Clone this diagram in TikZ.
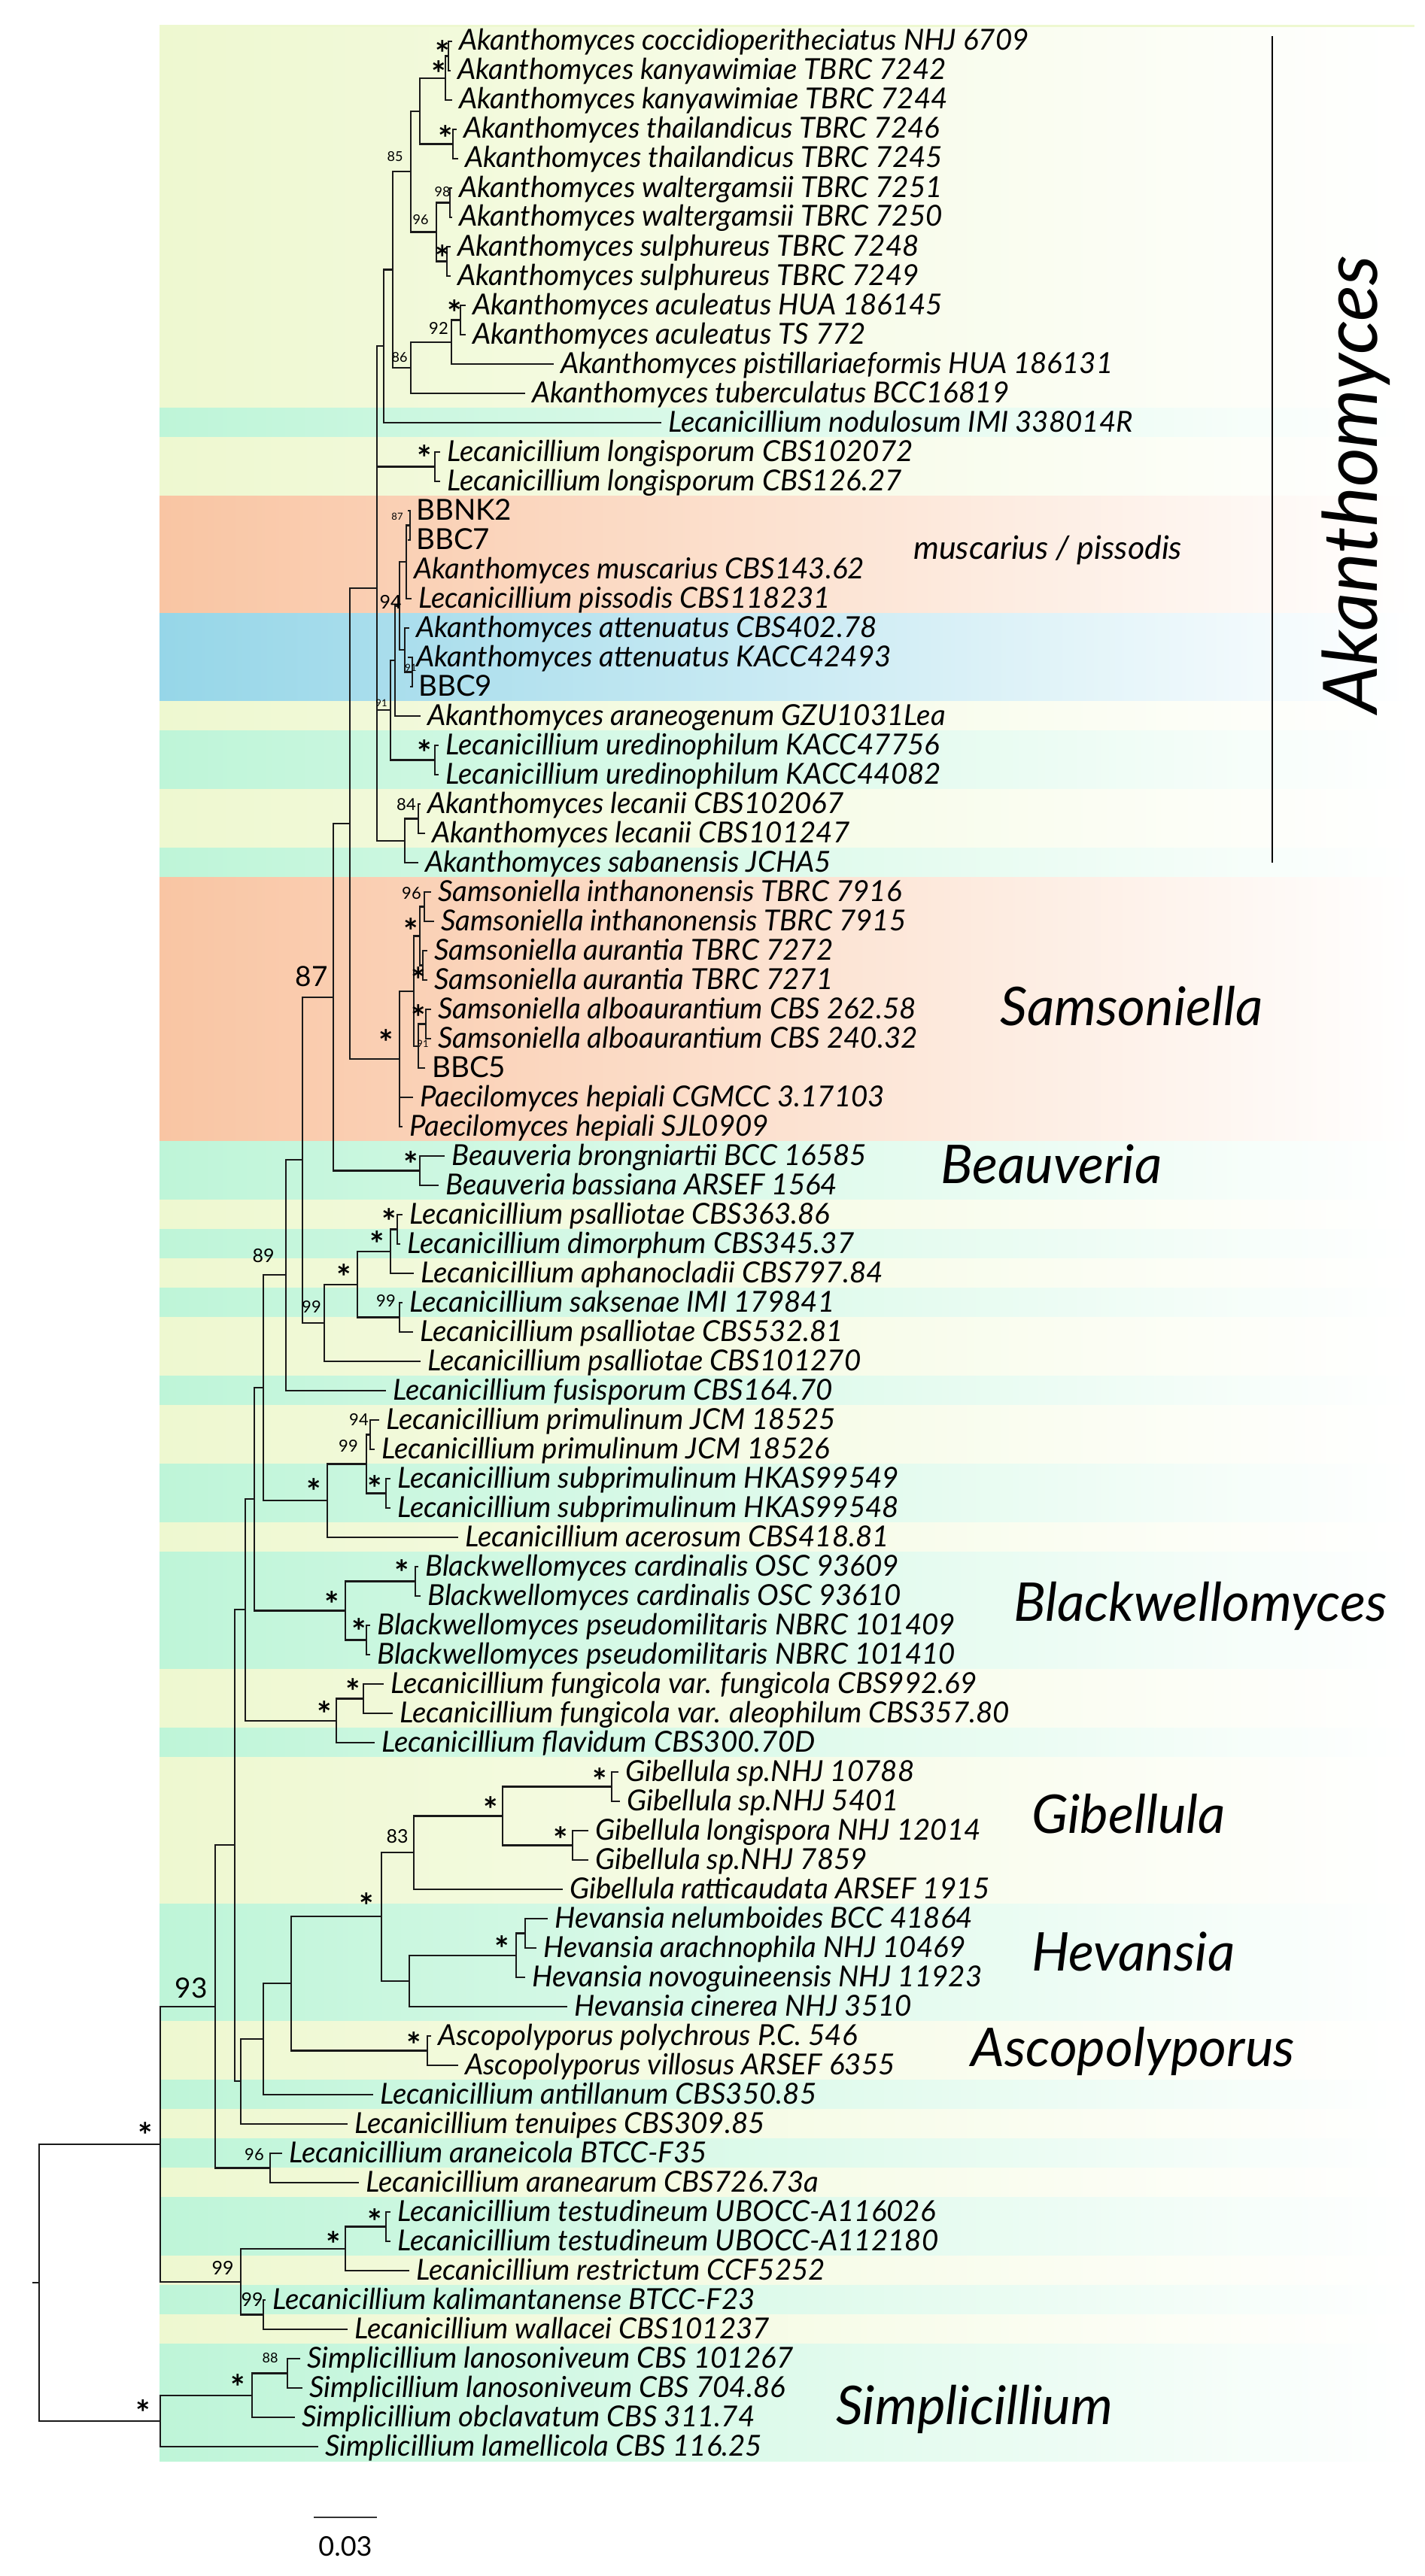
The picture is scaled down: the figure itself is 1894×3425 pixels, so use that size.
\documentclass[tikz,border=0pt]{standalone}
\usepackage{fontspec}
\setmainfont{Lato}
\definecolor{bY}{RGB}{238,248,208}
\definecolor{bG}{RGB}{190,245,216}
\definecolor{bO}{RGB}{249,197,163}
\definecolor{bB}{RGB}{150,214,232}
\begin{document}
\begin{tikzpicture}[x=1pt,y=-1pt,
  br/.style={line width=2.6pt, line cap=rect, draw=black!90},
  tx/.style={anchor=base west, inner sep=0pt, xshift=10pt, yshift=-12pt, font=\fontsize{38.5}{40}\selectfont\itshape},
  svt/.style={inner sep=0pt, font=\fontsize{13}{15}\selectfont},
  svs/.style={inner sep=0pt, font=\fontsize{18}{20}\selectfont},
  svm/.style={inner sep=0pt, font=\fontsize{22}{24}\selectfont},
  svn/.style={inner sep=0pt, font=\fontsize{25}{27}\selectfont},
  svl/.style={inner sep=0pt, font=\fontsize{37}{40}\selectfont},
  ast/.style={inner sep=0pt, anchor=north, yshift=7pt, font=\fontsize{46}{50}\selectfont\bfseries},
  clade/.style={anchor=base west, inner sep=0pt, font=\fontsize{71}{74}\selectfont\itshape},
]
\useasboundingbox (0,0) rectangle (1894,3425);
% ---------- background bands
\foreach \a/\b/\c in {1/13/bY,14/14/bG,15/16/bY,17/20/bO,21/23/bB,24/24/bY,25/26/bG,27/28/bY,29/29/bG,30/38/bO,39/40/bG,41/41/bY,42/42/bG,43/43/bY,44/44/bG,45/46/bY,47/47/bG,48/49/bY,50/51/bG,52/52/bY,53/56/bG,57/58/bY,59/59/bG,60/64/bY,65/68/bG,69/70/bY,71/71/bG,72/72/bY,73/73/bG,74/74/bY,75/76/bG,77/77/bY,78/78/bG,79/79/bY,80/83/bG}
  \shade[left color=\c, right color=white] (212,{35.5+39*(\a-1)-0.4}) rectangle (1880,{74.5+39*(\b-1)+0.4});
\fill[bY] (212,33) rectangle (1880,36);
% ---------- tips and labels
\foreach \i/\x/\t in {
1/600/{Akanthomyces coccidioperitheciatus NHJ 6709},
2/598/{Akanthomyces kanyawimiae TBRC 7242},
3/600/{Akanthomyces kanyawimiae TBRC 7244},
4/606/{Akanthomyces thailandicus TBRC 7246},
5/608/{Akanthomyces thailandicus TBRC 7245},
6/600/{Akanthomyces waltergamsii TBRC 7251},
7/600/{Akanthomyces waltergamsii TBRC 7250},
8/598/{Akanthomyces sulphureus TBRC 7248},
9/598/{Akanthomyces sulphureus TBRC 7249},
10/618/{Akanthomyces aculeatus HUA 186145},
11/618/{Akanthomyces aculeatus TS 772},
12/735/{Akanthomyces pistillariaeformis HUA 186131},
13/697/{Akanthomyces tuberculatus BCC16819},
14/878/{Lecanicillium nodulosum IMI 338014R},
15/584/{Lecanicillium longisporum CBS102072},
16/584/{Lecanicillium longisporum CBS126.27},
17/543/{\upshape BBNK2},
18/543/{\upshape BBC7},
19/540/{Akanthomyces muscarius CBS143.62},
20/546/{Lecanicillium pissodis CBS118231},
21/543/{Akanthomyces attenuatus CBS402.78},
22/543/{Akanthomyces attenuatus KACC42493},
23/546/{\upshape BBC9},
24/558/{Akanthomyces araneogenum GZU1031Lea},
25/582/{Lecanicillium uredinophilum KACC47756},
26/582/{Lecanicillium uredinophilum KACC44082},
27/558/{Akanthomyces lecanii CBS102067},
28/564/{Akanthomyces lecanii CBS101247},
29/555/{Akanthomyces sabanensis JCHA5},
30/572/{Samsoniella inthanonensis TBRC 7916},
31/576/{Samsoniella inthanonensis TBRC 7915},
32/567/{Samsoniella aurantia TBRC 7272},
33/567/{Samsoniella aurantia TBRC 7271},
34/572/{Samsoniella alboaurantium CBS 262.58},
35/572/{Samsoniella alboaurantium CBS 240.32},
36/564/{\upshape BBC5},
37/548/{Paecilomyces hepiali CGMCC 3.17103},
38/534/{Paecilomyces hepiali SJL0909},
39/590/{Beauveria brongniartii BCC 16585},
40/582/{Beauveria bassiana ARSEF 1564},
41/534/{Lecanicillium psalliotae CBS363.86},
42/531/{Lecanicillium dimorphum CBS345.37},
43/549/{Lecanicillium aphanocladii CBS797.84},
44/534/{Lecanicillium saksenae IMI 179841},
45/548/{Lecanicillium psalliotae CBS532.81},
46/558/{Lecanicillium psalliotae CBS101270},
47/512/{Lecanicillium fusisporum CBS164.70},
48/503/{Lecanicillium primulinum JCM 18525},
49/497/{Lecanicillium primulinum JCM 18526},
50/518/{Lecanicillium subprimulinum HKAS99549},
51/518/{Lecanicillium subprimulinum HKAS99548},
52/608/{Lecanicillium acerosum CBS418.81},
53/555/{Blackwellomyces cardinalis OSC 93609},
54/558/{Blackwellomyces cardinalis OSC 93610},
55/491/{Blackwellomyces pseudomilitaris NBRC 101409},
56/491/{Blackwellomyces pseudomilitaris NBRC 101410},
57/509/{Lecanicillium fungicola var. fungicola CBS992.69},
58/521/{Lecanicillium fungicola var. aleophilum CBS357.80},
59/497/{Lecanicillium flavidum CBS300.70D},
60/821/{Gibellula sp.NHJ 10788},
61/823/{Gibellula sp.NHJ 5401},
62/781/{Gibellula longispora NHJ 12014},
63/781/{Gibellula sp.NHJ 7859},
64/747/{Gibellula ratticaudata ARSEF 1915},
65/727/{Hevansia nelumboides BCC 41864},
66/712/{Hevansia arachnophila NHJ 10469},
67/697/{Hevansia novoguineensis NHJ 11923},
68/753/{Hevansia cinerea NHJ 3510},
69/572/{Ascopolyporus polychrous P.C. 546},
70/608/{Ascopolyporus villosus ARSEF 6355},
71/495/{Lecanicillium antillanum CBS350.85},
72/461/{Lecanicillium tenuipes CBS309.85},
73/374/{Lecanicillium araneicola BTCC-F35},
74/476/{Lecanicillium aranearum CBS726.73a},
75/518/{Lecanicillium testudineum UBOCC-A116026},
76/518/{Lecanicillium testudineum UBOCC-A112180},
77/543/{Lecanicillium restrictum CCF5252},
78/352/{Lecanicillium kalimantanense BTCC-F23},
79/461/{Lecanicillium wallacei CBS101237},
80/398/{Simplicillium lanosoniveum CBS 101267},
81/401/{Simplicillium lanosoniveum CBS 704.86},
82/391/{Simplicillium obclavatum CBS 311.74},
83/422/{Simplicillium lamellicola CBS 116.25}}
{\coordinate (t\i) at (\x,{55+39*(\i-1)});
 \node[tx] (L\i) at (t\i) {\t};}
% ---------- internal nodes
\foreach \n/\x/\y in {n12/596/74.5, n123/592/104, n45/602/191.5, n15/558/148, n67/598/269.5, n89/594/347.5, n69/580/308.5, n85/546/228,
 n1011/612/425.5, n1012/600/455, n86/546/489, nX/522/358.5, n510/510/460, nLong/578/620.5, nBB/545/698.5, nMus/540/747,
 nAttB/548/893.5, nAtt/538/864, n94/531/805.5, nAra/525/878, nUre/578/1010.5, n519/519/944, nLec/556/1088.5, nL/538/1118,
 nA/501/782, nAS/465/1095, n3031/564/1205.5, n3233/562/1283.5, n3033/558/1244.5, n3435/566/1361.5, n3436/556/1391,
 nS1/550/1318, nS/531/1408, nBeau/558/1556.5, n87/443/1326, n4142/528/1634.5, n4143/519/1664, n4445/531/1751.5,
 n4145/475/1708, n4146/431/1759, n402/402/1542, n380/380/1695, n4849/492/1907.5, n5051/513/1985.5, n4851/487/1946.5,
 nPrim/435/1995, n350/350/1845, n5354/552/2102.5, n5556/487/2180.5, nBw/459/2141.5, n338/338/1993, n5758/483/2258.5,
 nFung/447/2288, n326/326/2140, n6061/813/2375.5, n6263/761/2453.5, nGibS/668/2414.5, nGib/550/2463, n6566/698/2570.5,
 n6567/686/2600, nHev/544/2634, nGH/507/2548, nAsco/568/2726.5, n387/387/2637, n350b/350/2711, nT/320/2767,
 n312/312/2453, nAr/359/2882.5, n286/286/2668, n7576/513/2960.5, n7577/459/2990, n7879/350/3077.5, nT99/320/3034,
 n213/213/2851, n8081/382/3155.5, n8082/335/3185, nSimp/213/3219, root/52/3035, rootstub/44/3035}
 {\coordinate (\n) at (\x,\y);}
% ---------- branches
\foreach \p/\c in {n12/t1, n12/t2, n123/n12, n123/t3, n45/t4, n45/t5, n15/n123, n15/n45, n67/t6, n67/t7, n89/t8, n89/t9,
 n69/n67, n69/n89, n85/n15, n85/n69, n1011/t10, n1011/t11, n1012/n1011, n1012/t12, n86/n1012, n86/t13, nX/n85, nX/n86,
 n510/nX, n510/t14, nLong/t15, nLong/t16, nBB/t17, nBB/t18, nMus/nBB, nMus/t19, nMus/t20, nAttB/t22, nAttB/t23,
 nAtt/t21, nAtt/nAttB, n94/nMus, n94/nAtt, nAra/n94, nAra/t24, nUre/t25, nUre/t26, n519/nAra, n519/nUre, nLec/t27,
 nLec/t28, nL/nLec, nL/t29, nA/n510, nA/nLong, nA/n519, nA/nL, nAS/nA, nAS/nS,
 n3031/t30, n3031/t31, n3233/t32, n3233/t33, n3033/n3031, n3033/n3233, n3435/t34, n3435/t35, n3436/n3435, n3436/t36,
 nS1/n3033, nS1/n3436, nS/nS1, nS/t37, nS/t38, nBeau/t39, nBeau/t40, n87/nAS, n87/nBeau,
 n4142/t41, n4142/t42, n4143/n4142, n4143/t43, n4445/t44, n4445/t45, n4145/n4143, n4145/n4445, n4146/n4145, n4146/t46,
 n402/n87, n402/n4146, n380/n402, n380/t47, n4849/t48, n4849/t49, n5051/t50, n5051/t51, n4851/n4849, n4851/n5051,
 nPrim/n4851, nPrim/t52, n350/n380, n350/nPrim, n5354/t53, n5354/t54, n5556/t55, n5556/t56, nBw/n5354, nBw/n5556,
 n338/n350, n338/nBw, n5758/t57, n5758/t58, nFung/n5758, nFung/t59, n326/n338, n326/nFung,
 n6061/t60, n6061/t61, n6263/t62, n6263/t63, nGibS/n6061, nGibS/n6263, nGib/nGibS, nGib/t64,
 n6566/t65, n6566/t66, n6567/n6566, n6567/t67, nHev/n6567, nHev/t68, nGH/nGib, nGH/nHev,
 nAsco/t69, nAsco/t70, n387/nGH, n387/nAsco, n350b/n387, n350b/t71, nT/n350b, nT/t72, n312/n326, n312/nT,
 nAr/t73, nAr/t74, n286/n312, n286/nAr, n7576/t75, n7576/t76, n7577/n7576, n7577/t77, n7879/t78, n7879/t79,
 nT99/n7577, nT99/n7879, n213/n286, n213/nT99, n8081/t80, n8081/t81, n8082/n8081, n8082/t82, nSimp/n8082, nSimp/t83,
 root/n213, root/nSimp}
 {\draw[br] (\p) |- (\c);}
\draw[br] (rootstub) -- (root);
% ---------- support values
\foreach \x/\y [count=\k] in {588/60, 583/87, 592/173, 588/332, 604/405, 564/598, 564/990, 546/1227, 556/1292, 556/1342,
 513/1375, 546/1537, 517/1613, 501/1643, 457/1687, 498/1968, 417/1972, 534/2080, 441/2122, 477/2158, 469/2238, 431/2268,
 797/2357, 652/2395, 745/2435, 487/2523, 667/2580, 550/2708, 193/2828, 498/2943, 443/2973, 316/3163, 190/3197}
 {\node[ast] (a\k) at (\x,\y) {*};}
\foreach \x/\y/\v [count=\k] in {528/687/87, 546/888/91, 507/935/91, 562/1388/91}
 {\node[svt] (vt\k) at (\x,\y) {\v};}
\foreach \x/\y/\v [count=\k] in {525/208/85, 588/255/98, 559/292/96, 531/475/86, 359/3135/88}
 {\node[svs] (vs\k) at (\x,\y) {\v};}
\foreach \x/\y/\v [count=\k] in {583/437/92, 540/1070/84, 547/1188/96, 513/1730/99, 414/1738/99, 338/2865/96, 477/1888/94, 463/1923/99}
 {\node[svm] (vm\k) at (\x,\y) {\v};}
\foreach \x/\y/\v [count=\k] in {519/800/94, 350/1670/89, 528/2442/83, 296/3015/99, 335/3057/99}
 {\node[svn] (vn\k) at (\x,\y) {\v};}
\node[svl] (vl1) at (414,1298) {87};
\node[svl] (vl2) at (254,2643) {93};
% ---------- clade labels
\coordinate (barTop) at (1691,48);
\coordinate (barBot) at (1691,1147);
\draw[line width=2.6pt] (barTop) -- (barBot);
\node[rotate=90, anchor=base, inner sep=0pt, font=\fontsize{100}{104}\selectfont\itshape] (cAk) at (1830,644) {Akanthomyces};
\node[anchor=base west, inner sep=0pt, font=\fontsize{43}{46}\selectfont\itshape] (cMus) at (1214,743) {muscarius / pissodis};
\node[clade] (cSam) at (1329,1363) {Samsoniella};
\node[clade] (cBea) at (1250,1573) {Beauveria};
\node[clade] (cBla) at (1347,2155) {Blackwellomyces};
\node[clade] (cGib) at (1371,2437) {Gibellula};
\node[clade] (cHev) at (1371,2620) {Hevansia};
\node[clade] (cAsc) at (1290,2747) {Ascopolyporus};
\node[clade] (cSim) at (1111,3223) {Simplicillium};
% ---------- scale bar
\coordinate (sbL) at (417,3347);
\coordinate (sbR) at (501,3347);
\draw[line width=2.6pt, draw=black!80] (sbL) -- (sbR);
\node[anchor=base, inner sep=0pt, font=\fontsize{36}{40}\selectfont] (sbT) at (459,3398) {0.03};
\end{tikzpicture}
\end{document}
